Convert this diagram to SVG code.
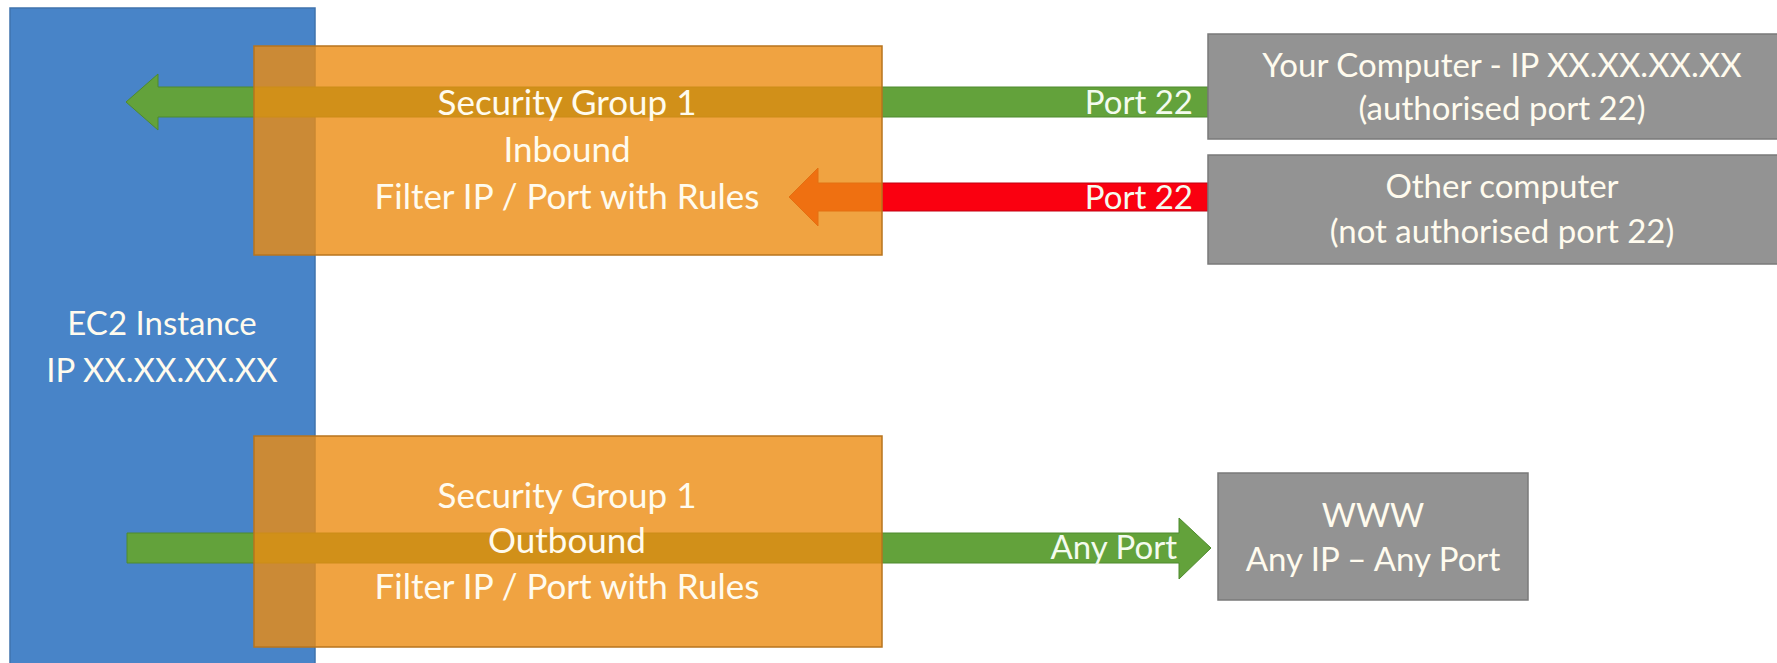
<svg xmlns="http://www.w3.org/2000/svg" width="1777" height="663" viewBox="0 0 1777 663">
  <style>
    .lbl { font-family: Lato, "Liberation Sans", sans-serif; font-size: 33px; fill: #fffbee; text-anchor: middle; }
    .sgt { font-size: 35px; }
    .port { font-family: Lato, "Liberation Sans", sans-serif; font-size: 33px; fill: #f4fbef; text-anchor: end; }
    .ec2 { fill: #4884c8; stroke: #3f73ad; stroke-width: 1.5; }
    .sg { fill: #ec8c12; fill-opacity: 0.8; stroke: #b8741e; stroke-width: 1.5; }
    .host { fill: #939393; stroke: #7a7a7a; stroke-width: 1.5; }
    .ok { fill: #63a23b; stroke: #4f8a2e; stroke-width: 1; }
    .deny { fill: #fa0010; stroke: #c00010; stroke-width: 1; }
  </style>

  <rect width="1777" height="663" fill="#ffffff"/>

  <!-- EC2 instance -->
  <g id="ec2">
    <rect class="ec2" x="10" y="8" width="305" height="670"/>
    <text class="lbl" x="162" y="335">EC2 Instance</text>
    <text class="lbl" x="162" y="382">IP XX.XX.XX.XX</text>
  </g>

  <!-- traffic arrows (drawn under the security groups) -->
  <g id="connectors">
    <!-- allowed inbound, port 22 -->
    <polygon class="ok" points="1208,87 158,87 158,74 126,102 158,130 158,117 1208,117"/>
    <!-- denied inbound, port 22 -->
    <polygon class="deny" points="1208,183 818,183 818,168 789,197 818,226 818,211 1208,211"/>
    <!-- outbound, any port -->
    <polygon class="ok" points="127,533 1179,533 1179,518 1211,548 1179,579 1179,563 127,563"/>
  </g>

  <!-- Security group, inbound rules -->
  <g id="sg-inbound">
    <rect class="sg" x="254" y="46" width="628" height="209"/>
    <text class="lbl sgt" x="567" y="115">Security Group 1</text>
    <text class="lbl sgt" x="567" y="162">Inbound</text>
    <text class="lbl sgt" x="567" y="209">Filter IP / Port with Rules</text>
  </g>

  <!-- Security group, outbound rules -->
  <g id="sg-outbound">
    <rect class="sg" x="254" y="436" width="628" height="211"/>
    <text class="lbl sgt" x="567" y="508">Security Group 1</text>
    <text class="lbl sgt" x="567" y="553">Outbound</text>
    <text class="lbl sgt" x="567" y="599">Filter IP / Port with Rules</text>
  </g>

  <!-- connector labels -->
  <g id="connector-labels">
    <text class="port" x="1193" y="114">Port 22</text>
    <text class="port" x="1193" y="209">Port 22</text>
    <text class="port" x="1177" y="559">Any Port</text>
  </g>

  <!-- External hosts -->
  <g id="your-computer">
    <rect class="host" x="1208" y="34" width="600" height="105"/>
    <text class="lbl" x="1502" y="77">Your Computer - IP XX.XX.XX.XX</text>
    <text class="lbl" x="1502" y="120">(authorised port 22)</text>
  </g>
  <g id="other-computer">
    <rect class="host" x="1208" y="155" width="600" height="109"/>
    <text class="lbl" x="1502" y="198">Other computer</text>
    <text class="lbl" x="1502" y="243">(not authorised port 22)</text>
  </g>
  <g id="www">
    <rect class="host" x="1218" y="473" width="310" height="127"/>
    <text class="lbl" x="1373" y="527">WWW</text>
    <text class="lbl" x="1373" y="571">Any IP – Any Port</text>
  </g>
</svg>
